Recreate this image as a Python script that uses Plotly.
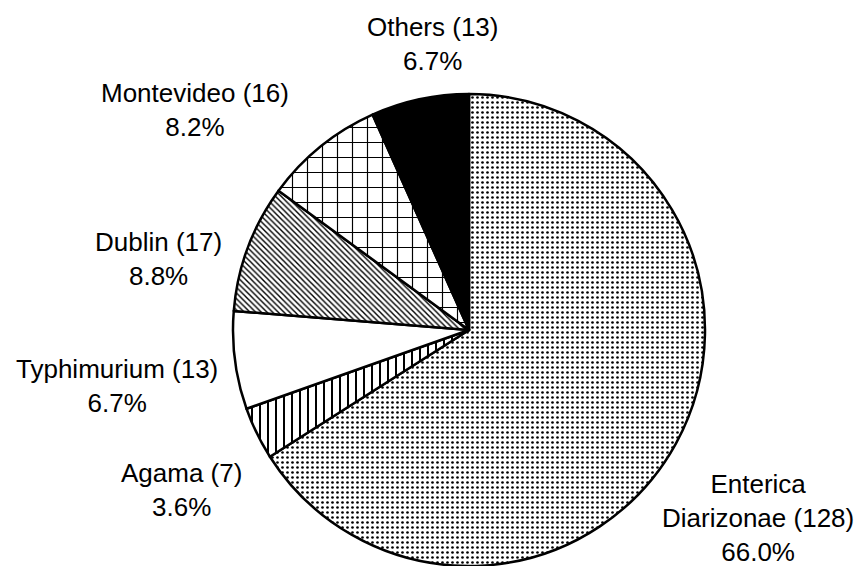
import plotly.graph_objects as go

labels = ["Enterica<br>Diarizonae", "Agama", "Typhimurium", "Dublin", "Montevideo", "Others"]
counts = [128, 7, 13, 17, 16, 13]
shapes = [".", "|", "", "\\", "+", ""]
colors = ["white", "white", "white", "white", "white", "black"]

# label placement (pixel centres of each label block)
label_px = [(758, 518), (181, 490), (117, 386), (158, 259), (195, 110), (433, 44)]

W, H = 861, 566
L, R, T, B = 233, 156, 94, 0

total = sum(counts)

fig = go.Figure(go.Pie(
    labels=labels,
    values=counts,
    sort=False,
    direction="clockwise",
    rotation=0,
    textinfo="none",
    marker=dict(
        colors=colors,
        line=dict(color="black", width=2.5),
        pattern=dict(shape=shapes, fgcolor="black", bgcolor=colors,
                     size=[5, 8, 8, 4, 15, 8], solidity=[0.22, 0.25, 0.3, 0.35, 0.15, 0.3]),
    ),
    showlegend=False,
    hoverinfo="skip",
))

pw, ph = W - L - R, H - T - B
for lab, c, (px, py) in zip(labels, counts, label_px):
    fig.add_annotation(
        text=f"{lab} ({c})<br>{100 * c / total:.1f}%",
        x=(px - L) / pw, y=1 - (py - T) / ph,
        xref="paper", yref="paper",
        xanchor="center", yanchor="middle",
        showarrow=False, align="center",
        font=dict(family="Liberation Sans, Arial", size=26, color="black"),
    )

fig.update_layout(
    width=W, height=H,
    margin=dict(l=L, r=R, t=T, b=B),
    paper_bgcolor="white",
    plot_bgcolor="white",
)
fig.write_html("out.html", config={"displayModeBar": False},
               post_script="document.body.style.margin='0';document.body.style.overflow='hidden';")
